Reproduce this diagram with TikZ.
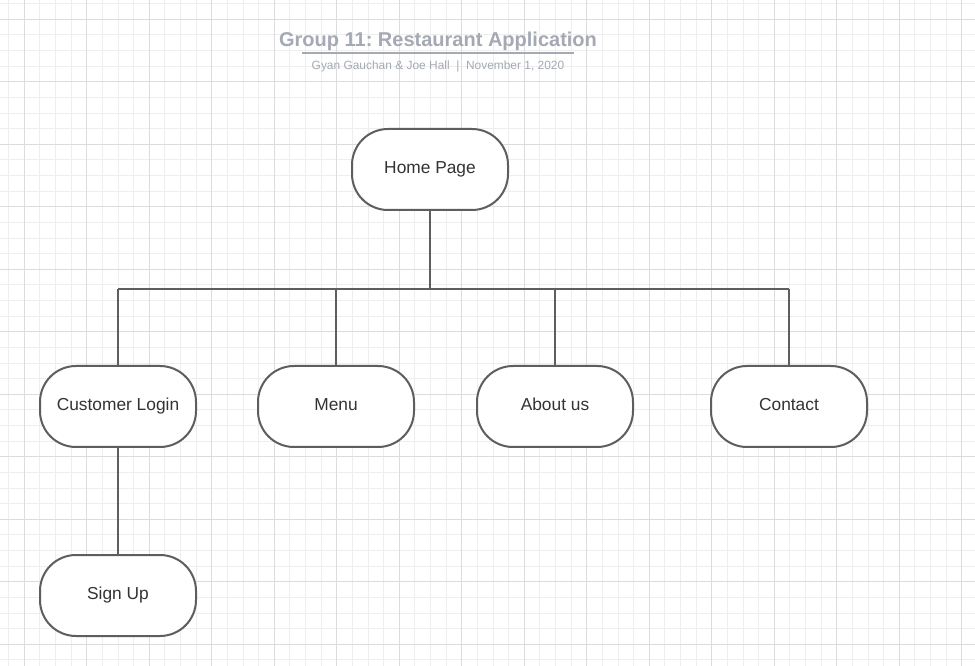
\documentclass[tikz,border=0pt]{standalone}
\usepackage{fontspec}
\setmainfont{Liberation Sans}
\usepackage{tikz}
\usetikzlibrary{positioning, calc}
\frenchspacing
\definecolor{minorline}{HTML}{EEEEEE}
\definecolor{majorline}{HTML}{DCDCDC}
\definecolor{boxline}{HTML}{5E5E5E}
\definecolor{titlegray}{HTML}{A4A9B4}
\definecolor{textdark}{HTML}{333333}
\tikzset{
  page/.style={draw=boxline, line width=1.5pt, fill=white, rounded corners=27pt,
    minimum width=117pt, minimum height=60.75pt, text=textdark,
    text height=9.5pt, text depth=3.5pt,
    font=\fontsize{13}{15}\selectfont},
  link/.style={draw=boxline, line width=1.1pt}
}

\begin{document}
\begin{tikzpicture}[x=0.75pt, y=-0.75pt]
    \useasboundingbox (0,0) rectangle (975,666);
    \fill[white] (0,0) rectangle (975,666);

    % background grid
    \foreach \i in {0,...,62}
      \draw[minorline, line width=0.75pt] ({8.7+15.625*\i},0) -- ++(0,666);
    \foreach \i in {0,...,42}
      \draw[minorline, line width=0.75pt] (0,{3.7+15.625*\i}) -- ++(975,0);
    \foreach \i in {0,...,15}
      \draw[majorline, line width=0.75pt] ({24.3+62.5*\i},0) -- ++(0,666);
    \foreach \i in {0,...,10}
      \draw[majorline, line width=0.75pt] (0,{19.3+62.5*\i}) -- ++(975,0);

    % title
    \node[text=titlegray, font=\bfseries\fontsize{15}{17}\selectfont] (title) at (438,41.5) {Group 11: Restaurant Application};
    \draw[titlegray, line width=1.1pt] (302,53) -- (574,53);
    \node[text=titlegray, font=\fontsize{8.95}{10}\selectfont] (sub) at (438,66.5) {Gyan Gauchan \& Joe Hall~~|~~November 1, 2020};

    % pages
    \node[page] (home) at (430,169.5) {Home Page};
    \node[page] (login) at (118,406.5) {Customer Login};
    \node[page] (menu) at (336,406.5) {Menu};
    \node[page] (about) at (555,406.5) {About us};
    \node[page] (contact) at (789,406.5) {Contact};
    \node[page] (signup) at (118,595.5) {Sign Up};

    \coordinate (busL) at (118,289);
    \coordinate (busR) at (789,289);

    \draw[link] (busL) -- (busR);
    \draw[link] (home.south) -- (home.south |- busL);
    \foreach \n in {login,menu,about,contact}
      \draw[link] (\n.north) -- (\n.north |- busL);
    \draw[link] (login.south) -- (signup.north);
  \end{tikzpicture}
\end{document}
